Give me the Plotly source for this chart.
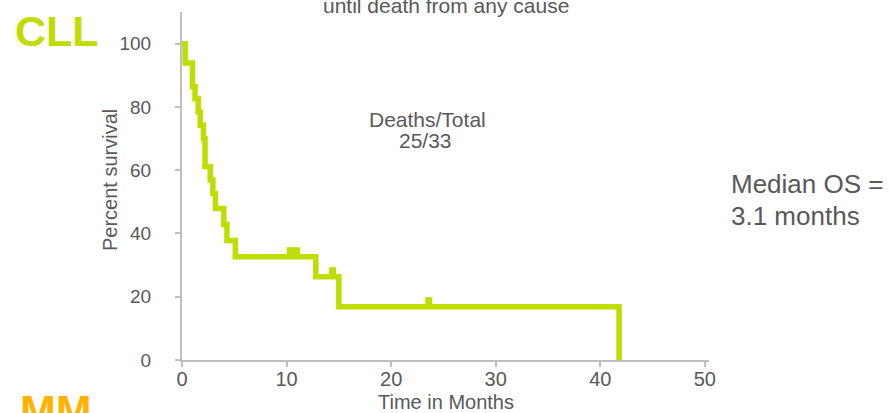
import plotly.graph_objects as go

# ---- data ----
time_months = [0, 0.3, 1.0, 1.25, 1.55, 1.75, 2.05, 2.2, 2.7, 2.95, 3.2, 4.0, 4.3, 5.1, 12.8, 15.0, 41.8]
percent_survival = [100, 93.9, 86.4, 82.6, 78.4, 74.2, 70.0, 61.2, 56.9, 52.6, 47.9, 42.8, 37.8, 32.6, 26.3, 16.8, 0]
censor_times = [10.35, 10.95, 14.4, 23.6]
censor_survival = [32.6, 32.6, 26.3, 16.8]
x_ticks = [0, 10, 20, 30, 40, 50]
y_ticks = [0, 20, 40, 60, 80, 100]

LIME = "#BFDD00"
ORANGE = "#FFB300"
GREY = "#595959"
AXIS = "#BFBFBF"
FONT = "Liberation Sans, Arial, sans-serif"

W, H = 889, 413
L, R, T, B = 182, 180, 12, 53
PW, PH = W - L - R, H - T - B


def px(xp):
    return (xp - L) / PW


def py(yp):
    return (H - B - yp) / PH


fig = go.Figure()
fig.add_trace(go.Scatter(
    x=time_months, y=percent_survival, mode="lines",
    line=dict(color=LIME, width=5.5, shape="hv"),
    hoverinfo="skip", cliponaxis=False,
))
fig.add_trace(go.Scatter(
    x=censor_times, y=[s + 1.5 for s in censor_survival], mode="markers",
    marker=dict(symbol="line-ns", size=7, color=LIME,
                line=dict(color=LIME, width=7)),
    hoverinfo="skip",
))

ann = []


def text(t, xp, yp, size, anchor="center", color=GREY, bold=False, angle=0):
    ann.append(dict(
        text=f"<b>{t}</b>" if bold else t,
        x=px(xp), y=py(yp), xref="paper", yref="paper",
        xanchor=anchor, yanchor="middle", showarrow=False,
        textangle=angle,
        font=dict(family=FONT, size=size, color=color),
    ))


text("until death from any cause", 446, 5.5, 21)
text("Deaths/Total", 427.5, 119.2, 21)
text("25/33", 425.8, 140, 21)
text("Median OS =", 729, 184.2, 26, anchor="left")
text("3.1 months", 729, 216, 26, anchor="left")
text("CLL", 13, 30.8, 43, anchor="left", color=LIME, bold=True)
text("MM", 18, 410.4, 43, anchor="left", color=ORANGE, bold=True)
text("Time in Months", 446, 401.5, 20)
text("Percent survival", 110, 180, 20, angle=-90)

fig.update_layout(
    width=W, height=H,
    margin=dict(l=L, r=R, t=T, b=B),
    paper_bgcolor="white", plot_bgcolor="white",
    showlegend=False,
    annotations=ann,
    font=dict(family=FONT, color=GREY),
    xaxis=dict(
        range=[0, 50.4], tickvals=x_ticks, showgrid=False, zeroline=False,
        showline=True, linecolor=AXIS, linewidth=2,
        ticks="outside", ticklen=5, tickcolor=AXIS, tickwidth=1.5,
        tickfont=dict(family=FONT, size=20, color=GREY),
        ticklabelstandoff=-5,
    ),
    yaxis=dict(
        range=[0, 110], tickvals=y_ticks, showgrid=False, zeroline=False,
        showline=True, linecolor=AXIS, linewidth=2,
        ticks="outside", ticklen=5, tickcolor=AXIS, tickwidth=1.5,
        tickfont=dict(family=FONT, size=19, color=GREY),
        ticklabelstandoff=20,
    ),
)

fig.write_html(
    "out.html",
    config={"displayModeBar": False},
    post_script="document.body.style.margin='0';document.body.style.overflow='hidden';",
)
